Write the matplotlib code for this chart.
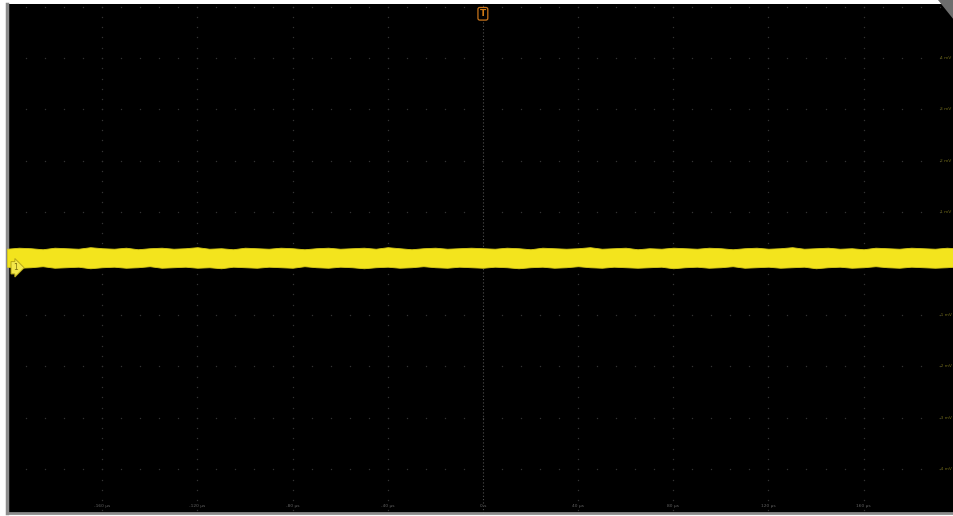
import numpy as np
import matplotlib
matplotlib.use("Agg")
import matplotlib.pyplot as plt
from matplotlib.patches import Polygon

# Time axis (µs) and voltage axis (mV) divisions
time_ticks = [-160, -120, -80, -40, 0, 40, 80, 120, 160]
time_labels = ["-160 µs", "-120 µs", "-80 µs", "-40 µs", "0 s", "40 µs", "80 µs", "120 µs", "160 µs"]
volt_ticks = [4, 3, 2, 1, -1, -2, -3, -4]
volt_labels = ["4 mV", "3 mV", "2 mV", "1 mV", "-1 mV", "-2 mV", "-3 mV", "-4 mV"]

# Channel 1 noise band: sampled upper / lower envelope (mV) across the record
env_time = [-200, -195, -190, -185, -180, -175, -170, -165, -160, -155, -150, -145, -140, -135,
            -130, -125, -120, -115, -110, -105, -100, -95, -90, -85, -80, -75, -70, -65,
            -60, -55, -50, -45, -40, -35, -30, -25, -20, -15, -10, -5, 0, 5, 10, 15,
            20, 25, 30, 35, 40, 45, 50, 55, 60, 65, 70, 75, 80, 85, 90, 95, 100,
            105, 110, 115, 120, 125, 130, 135, 140, 145, 150, 155, 160, 165, 170, 175,
            180, 185, 190, 195, 198]
env_upper = [0.29, 0.31, 0.30, 0.28, 0.31, 0.30, 0.29, 0.32, 0.30, 0.29, 0.31, 0.28, 0.30, 0.31,
             0.29, 0.30, 0.32, 0.29, 0.30, 0.28, 0.31, 0.30, 0.29, 0.31, 0.30, 0.28, 0.30, 0.31,
             0.29, 0.30, 0.31, 0.29, 0.32, 0.30, 0.28, 0.30, 0.31, 0.29, 0.30, 0.31, 0.30, 0.29,
             0.31, 0.30, 0.28, 0.31, 0.30, 0.29, 0.30, 0.32, 0.29, 0.30, 0.31, 0.28, 0.30, 0.29,
             0.31, 0.30, 0.29, 0.31, 0.30, 0.28, 0.30, 0.31, 0.29, 0.30, 0.32, 0.29, 0.30, 0.31,
             0.29, 0.30, 0.28, 0.31, 0.30, 0.29, 0.31, 0.30, 0.29, 0.31, 0.30]
env_lower = [-0.06, -0.08, -0.07, -0.05, -0.08, -0.07, -0.06, -0.09, -0.07, -0.06, -0.08, -0.07,
             -0.05, -0.08, -0.07, -0.06, -0.08, -0.07, -0.09, -0.06, -0.07, -0.08, -0.06, -0.07,
             -0.08, -0.05, -0.07, -0.08, -0.06, -0.07, -0.09, -0.07, -0.06, -0.08, -0.07, -0.05,
             -0.07, -0.08, -0.06, -0.07, -0.08, -0.06, -0.07, -0.09, -0.07, -0.06, -0.08, -0.07,
             -0.05, -0.07, -0.08, -0.06, -0.07, -0.08, -0.07, -0.06, -0.09, -0.07, -0.06, -0.08,
             -0.07, -0.05, -0.08, -0.07, -0.06, -0.08, -0.07, -0.06, -0.09, -0.07, -0.06, -0.08,
             -0.07, -0.05, -0.07, -0.08, -0.06, -0.07, -0.08, -0.07, -0.06]
ch1_offset = 0.0

W, H = 954, 516
fig = plt.figure(figsize=(W / 100, H / 100), dpi=100, facecolor="white")
ax = fig.add_axes([7 / W, 3 / H, (W - 7) / W, (513 - 4) / H])
ax.set_facecolor("black")
ax.set_xlim(-200, 198)
ax.set_ylim(-4.85, 5.05)
ax.set_xticks([])
ax.set_yticks([])
for s in ("top", "right"):
    ax.spines[s].set_visible(False)
ax.spines["left"].set_color("#8c8c8c")
ax.spines["left"].set_linewidth(2.5)
ax.spines["bottom"].set_color("#8c8c8c")
ax.spines["bottom"].set_linewidth(2.0)

grid_col = "#333333"
major_x = np.arange(-200, 201, 40)
major_y = np.arange(-5, 6, 1)
minor_x = np.arange(-200, 201, 8)
minor_y = np.arange(-5, 5.01, 0.2)

# dotted graticule: dots at minor steps along each major line
for xv in major_x:
    if xv == 0:
        continue
    ax.plot(np.full_like(minor_y, xv), minor_y, ls="none", marker="s", ms=0.9,
            color=grid_col, mew=0)
for yv in major_y:
    if yv == 0:
        continue
    ax.plot(minor_x, np.full_like(minor_x, yv, dtype=float), ls="none", marker="s", ms=0.9,
            color=grid_col, mew=0)

# centre cross-hair, finer dotted
ax.axvline(0, color="#505050", lw=0.8, ls=(0, (1, 2)))
ax.axhline(0, color="#505050", lw=0.8, ls=(0, (1, 2)))

# noise band of channel 1
ax.fill_between(env_time, env_lower, env_upper, color="#f3e41d", lw=0.6,
                edgecolor="#d8ca18", zorder=5)

# channel offset marker
ax.text(-197.6, ch1_offset - 0.08, "1", fontsize=5.5, color="#7a6e10", ha="left", va="center",
        zorder=7,
        bbox=dict(boxstyle="rarrow,pad=0.22", fc="#f4e84a", ec="#b8a818", lw=0.7))

# trigger position marker
ax.text(0, 4.86, "T", fontsize=6.5, color="#d07a14", ha="center", va="center",
        fontweight="bold", zorder=7,
        bbox=dict(boxstyle="round,pad=0.2", fc="black", ec="#c8741a", lw=0.9))

# vertical scale labels
for v, lab in zip(volt_ticks, volt_labels):
    ax.text(197, v, lab, fontsize=3.2, color="#6e6818", ha="right", va="center", zorder=6)

# horizontal scale labels
for t, lab in zip(time_ticks, time_labels):
    ax.text(t, -4.72, lab, fontsize=3.2, color="#626262", ha="center", va="center", zorder=6)

# corner tab
fig.patches.append(Polygon([[938 / W, 1], [1, 1], [1, (516 - 20) / H]], closed=True,
                           transform=fig.transFigure, fc="#6e6e6e", ec="none"))

fig.savefig("out.png", dpi=100, facecolor="white")
